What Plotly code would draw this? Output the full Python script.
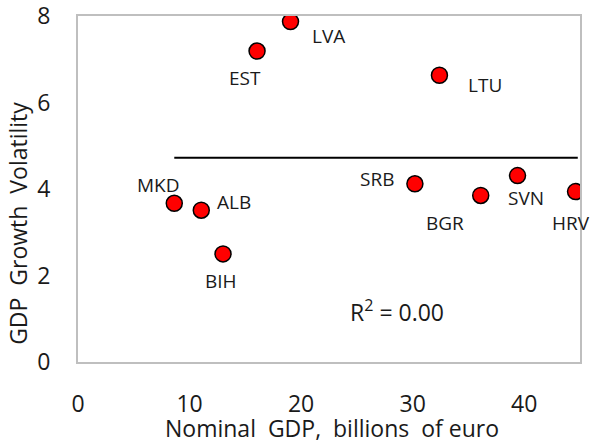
import plotly.graph_objects as go

countries = ["LVA", "EST", "LTU", "MKD", "ALB", "BIH", "SRB", "BGR", "SVN", "HRV"]
nominal_gdp = [19.05, 16.05, 32.4, 8.63, 11.05, 13.0, 30.2, 36.1, 39.4, 44.6]
volatility = [7.87, 7.19, 6.63, 3.67, 3.51, 2.50, 4.12, 3.85, 4.31, 3.94]

trend_x = [8.63, 44.8]
trend_y = [4.72, 4.72]
r2_text = "R<sup>2</sup> = 0.00"

x_ticks = [0, 10, 20, 30, 40]
y_ticks = [0, 2, 4, 6, 8]

x_title = "Nominal\u00a0 GDP,\u00a0 billions\u00a0 of euro"
y_title = "GDP\u00a0 Growth\u00a0 Volatility"

# label offsets in pixels (styling)
label_shift = {
    "LVA": (38, -14), "EST": (-12, -27), "LTU": (46, -10), "MKD": (-16, 18),
    "ALB": (33, 8), "BIH": (-2, -27), "SRB": (-38, 5), "BGR": (-36, -28),
    "SVN": (8, -22), "HRV": (-5, -31),
}

font = "Open Sans, Noto Sans, sans-serif"
txt = "#1a1a1a"

fig = go.Figure()
fig.add_trace(go.Scatter(
    x=trend_x, y=trend_y, mode="lines",
    line=dict(color="black", width=2), hoverinfo="skip", showlegend=False,
))
fig.add_trace(go.Scatter(
    x=nominal_gdp, y=volatility, mode="markers",
    marker=dict(color="#ff0000", size=16, line=dict(color="black", width=1.5)),
    showlegend=False,
))

for c, xv, yv in zip(countries, nominal_gdp, volatility):
    dx, dy = label_shift[c]
    fig.add_annotation(x=xv, y=yv, text=c, showarrow=False, xshift=dx, yshift=dy,
                       font=dict(family=font, size=19, color=txt))

fig.add_annotation(x=28.6, y=1.17, text=r2_text, showarrow=False,
                   font=dict(family=font, size=23, color=txt))

# axis titles
fig.add_annotation(xref="paper", yref="paper", x=0.505, y=-0.19, yanchor="middle",
                   text=x_title, showarrow=False,
                   font=dict(family=font, size=23, color=txt))
fig.add_annotation(xref="paper", yref="paper", x=-0.121, y=0.40, xanchor="center",
                   yanchor="middle", textangle=-90,
                   text=y_title, showarrow=False,
                   font=dict(family=font, size=23, color=txt))

fig.update_layout(
    width=590, height=443,
    margin=dict(l=78, r=10, t=16, b=81),
    plot_bgcolor="white", paper_bgcolor="white",
    font=dict(family=font, color=txt),
)
fig.update_xaxes(
    range=[0, 45], tickvals=x_ticks, showgrid=False, zeroline=False,
    showline=True, linecolor="#bfbfbf", linewidth=2, mirror=True, automargin=False,
    ticks="", tickfont=dict(size=23, family=font, color=txt), ticklabelstandoff=20,
    ticklabeloverflow="allow",
)
fig.update_yaxes(
    range=[0, 8], tickvals=y_ticks, showgrid=False, zeroline=False,
    showline=True, linecolor="#bfbfbf", linewidth=2, mirror=True, automargin=False,
    ticks="", tickfont=dict(size=23, family=font, color=txt), ticklabelstandoff=21,
    ticklabeloverflow="allow",
)

fig.write_html("out.html", config={"displayModeBar": False},
               post_script="document.body.style.margin='0';")
